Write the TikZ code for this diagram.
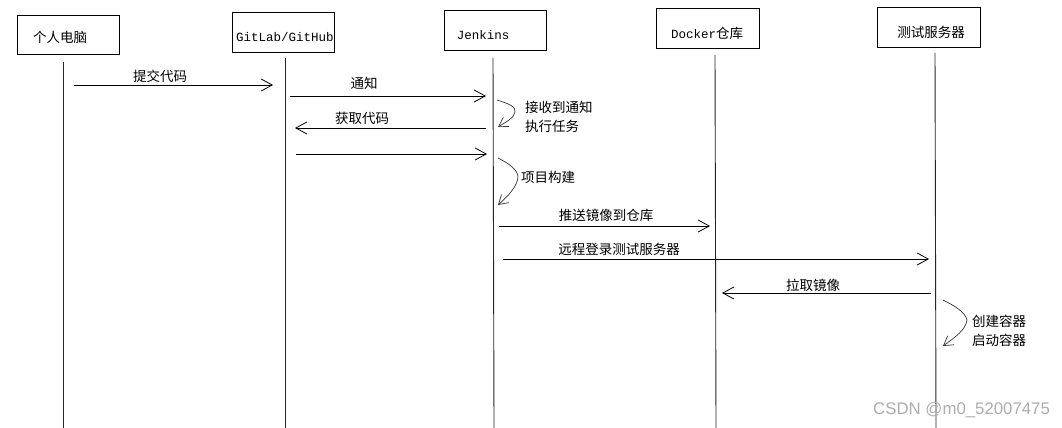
\documentclass[tikz,border=0pt]{standalone}
\usepackage{fontspec}
\setmainfont{Liberation Sans}
\newfontfamily\cjk{Noto Sans CJK SC}
\newfontfamily\monofnt{Liberation Mono}
\usetikzlibrary{arrows.meta}
\begin{document}
\begin{tikzpicture}[x=1pt,y=-1pt,
  box/.style={draw, line width=0.8pt, minimum width=102pt, minimum height=40pt, inner sep=0pt},
  life/.style={line width=0.9pt, draw=black!85},
  msg/.style={line width=0.8pt, -{Straight Barb[length=11pt,width=12pt,line width=0.8pt]}},
  loopmsg/.style={line width=0.7pt, draw=black!80, -{Straight Barb[length=9pt,width=11pt,line width=0.7pt]}},
  cjktxt/.style={font=\cjk\fontsize{13.5}{18}\selectfont, inner sep=0pt},
  montxt/.style={font=\monofnt\fontsize{12.5}{15}\selectfont, inner sep=0pt},
  note/.style={cjktxt, align=left, anchor=west}
]
\useasboundingbox[fill=white] (0,0) rectangle (1062,428);

% participant boxes
\node[box, minimum height=39pt] (pc) at (68,34.5) {};
\node[cjktxt] (pcT) at (60,37) {个人电脑};
\node[box] (git) at (283,32) {};
\node[montxt] (gitT) at (285,37) {GitLab/GitHub};
\node[box] (jen) at (495,30) {};
\node[montxt] (jenT) at (483,35) {Jenkins};
\node[box, minimum width=103pt] (dock) at (707.5,28) {};
\node[inner sep=0pt] (dockT) at (707,33) {\monofnt\fontsize{12.5}{15}\selectfont Docker\cjk\fontsize{13.5}{18}\selectfont 仓库};
\node[box, minimum width=103pt] (test) at (928.5,27) {};
\node[cjktxt] (testT) at (931,32) {测试服务器};

% lifelines
\coordinate (pcA) at (63,62);   \coordinate (pcZ) at (63,428);
\coordinate (gitA) at (285,58); \coordinate (gitZ) at (285,428);
\coordinate (jenA) at (493,58); \coordinate (jenZ) at (494,428);
\coordinate (dockA) at (715,55); \coordinate (dockZ) at (716,428);
\coordinate (testA) at (935,53); \coordinate (testZ) at (936,428);
\draw[life] (pcA) -- (pcZ);
\draw[life] (gitA) -- (gitZ);
\draw[life] (jenA) -- (jenZ);
\draw[life] (dockA) -- (dockZ);
\draw[life] (testA) -- (testZ);

% messages
\coordinate (m1s) at (74,85);   \coordinate (m1e) at (273,85);
\draw[msg] (m1s) -- (m1e);
\node[cjktxt] (l1) at (160,76) {提交代码};

\coordinate (m2s) at (290,96);  \coordinate (m2e) at (486,96);
\draw[msg] (m2s) -- (m2e);
\node[cjktxt] (l2) at (364,83) {通知};

\coordinate (m3s) at (486,128); \coordinate (m3e) at (295,128);
\draw[msg] (m3s) -- (m3e);
\node[cjktxt] (l3) at (362,118) {获取代码};

\coordinate (m4s) at (296,154); \coordinate (m4e) at (487,154);
\draw[msg] (m4s) -- (m4e);

% self loop 1
\coordinate (s1a) at (497,100); \coordinate (s1m) at (515,112); \coordinate (s1b) at (498,127);
\draw[loopmsg] (s1a) .. controls (510,104) and (516,107) .. (s1m) .. controls (514,118) and (506,122) .. (s1b);
\node[note] (n1) at (525,117) {接收到通知\\[1pt]执行任务};

% self loop 2
\coordinate (s2a) at (498,158); \coordinate (s2m) at (518,176); \coordinate (s2b) at (498,205);
\draw[loopmsg] (s2a) .. controls (510,164) and (517,170) .. (s2m) .. controls (518,186) and (508,196) .. (s2b);
\node[note] (n2) at (521,177) {项目构建};

\coordinate (m5s) at (499,226); \coordinate (m5e) at (710,226);
\draw[msg] (m5s) -- (m5e);
\node[cjktxt] (l5) at (606,215) {推送镜像到仓库};

\coordinate (m6s) at (503,259); \coordinate (m6e) at (929,259);
\draw[msg] (m6s) -- (m6e);
\node[cjktxt] (l6) at (619,249) {远程登录测试服务器};

\coordinate (m7s) at (931,293); \coordinate (m7e) at (722,293);
\draw[msg] (m7s) -- (m7e);
\node[cjktxt] (l7) at (813,285) {拉取镜像};

% self loop 3
\coordinate (s3a) at (943,300); \coordinate (s3m) at (967,320); \coordinate (s3b) at (943,346);
\draw[loopmsg] (s3a) .. controls (955,306) and (965,312) .. (s3m) .. controls (966,330) and (954,338) .. (s3b);
\node[note] (n3) at (972,331) {创建容器\\[1pt]启动容器};

% watermark
\node[anchor=west, inner sep=0pt, text=black!32, font=\fontsize{16.8}{19}\selectfont] (wm) at (873,410) {CSDN @m0\_52007475};
\end{tikzpicture}
\end{document}
